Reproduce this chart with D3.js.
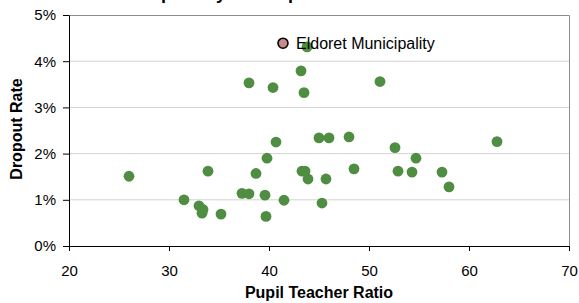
<!DOCTYPE html>
<html>
<head>
<meta charset="utf-8">
<script src="https://cdn.jsdelivr.net/npm/d3@7"></script>
<style>
  body { margin: 0; background: #fff; }
  svg { display: block; font-family: Arial, "Liberation Sans", sans-serif; }
</style>
</head>
<body>
<div id="chart"></div>
<script>
var w = 579;
var h = 303;

// Pupil teacher ratio and dropout rate per school area
var ratio = [26.0, 31.5, 33.0, 33.4, 33.3, 33.9, 35.2, 37.3, 38.0, 38.7, 39.6, 39.7, 39.8,
    40.7, 41.5, 43.3, 43.6, 43.9, 45.0, 45.3, 46.0, 48.0, 45.7, 48.5, 52.6, 52.9, 54.3,
    54.7, 57.3, 58.0, 62.8, 38.0, 40.4, 43.2, 43.5, 43.8, 51.1];
var dropout = [0.0151, 0.0100, 0.0087, 0.0079, 0.0071, 0.0162, 0.0069, 0.0114, 0.0113, 0.0157, 0.0110, 0.0064, 0.0190,
    0.0225, 0.0099, 0.0162, 0.0162, 0.0145, 0.0234, 0.0093, 0.0234, 0.0236, 0.0145, 0.0167, 0.0213, 0.0162, 0.0160,
    0.0190, 0.0160, 0.0128, 0.0226, 0.0353, 0.0343, 0.0379, 0.0332, 0.0431, 0.0356];

// highlighted point
var highlightName = ["Eldoret Municipality"];
var highlightRatio = [41.4];
var highlightDropout = [0.0439];

var xTicks = [20, 30, 40, 50, 60, 70];
var yTicks = [0, 0.01, 0.02, 0.03, 0.04, 0.05];

var points = ratio.map(function(r, i) { return { x: r, y: dropout[i] }; });
var special = highlightName.map(function(n, i) {
    return { name: n, x: highlightRatio[i], y: highlightDropout[i] };
});

// plot area edges (note: "top" is reserved on window)
var plotLeft = 69, plotRight = 569, plotTop = 15, plotBottom = 246;

var xScale = d3.scaleLinear().domain([20, 70]).range([plotLeft, plotRight]);
var yScale = d3.scaleLinear().domain([0, 0.05]).range([plotBottom, plotTop]);

var svg = d3.select("#chart")
    .append("svg")
    .attr("width", w)
    .attr("height", h);

// Title (mostly cut off above the picture)
svg.append("text")
    .attr("x", 130)
    .attr("y", -1.5)
    .style("font-size", "18px")
    .style("font-weight", "bold")
    .text("Dropout by Municipal Council");

// gridlines
svg.append("g")
    .selectAll("line")
    .data(yTicks.slice(1, -1))
    .enter()
    .append("line")
    .attr("x1", plotLeft)
    .attr("x2", plotRight)
    .attr("y1", function(d) { return yScale(d); })
    .attr("y2", function(d) { return yScale(d); })
    .attr("stroke", "#d3d3d3")
    .attr("stroke-width", 1);

// top and right frame
svg.append("path")
    .attr("d", "M" + plotLeft + "," + (plotTop + 0.5) + "H" + (plotRight + 0.5) + "V" + plotBottom)
    .attr("fill", "none")
    .attr("stroke", "#8c8c8c")
    .attr("stroke-width", 1);

// x axis
var xAxis = d3.axisBottom(xScale)
    .tickValues(xTicks)
    .tickSize(5)
    .tickSizeOuter(0)
    .tickPadding(14)
    .tickFormat(d3.format("d"));
svg.append("g")
    .attr("transform", "translate(0," + plotBottom + ")")
    .call(xAxis)
    .call(function(g) {
        g.selectAll("text").style("font-size", "15px").attr("fill", "#000");
        g.selectAll("line, path").attr("stroke", "#000");
    });

// y axis
var yAxis = d3.axisLeft(yScale)
    .tickValues(yTicks)
    .tickSize(6)
    .tickSizeOuter(0)
    .tickPadding(7)
    .tickFormat(d3.format(".0%"));
svg.append("g")
    .attr("transform", "translate(" + plotLeft + ",0)")
    .call(yAxis)
    .call(function(g) {
        g.selectAll("text").style("font-size", "15px").attr("fill", "#000");
        g.selectAll("line, path").attr("stroke", "#000");
    });

// points
svg.append("g")
    .selectAll("circle")
    .data(points)
    .enter()
    .append("circle")
    .attr("cx", function(d) { return xScale(d.x); })
    .attr("cy", function(d) { return yScale(d.y); })
    .attr("r", 5.4)
    .attr("fill", "#4f8e42");

// highlighted point and its label
var hi = svg.append("g")
    .selectAll("g")
    .data(special)
    .enter()
    .append("g");

hi.append("circle")
    .attr("cx", function(d) { return xScale(d.x); })
    .attr("cy", function(d) { return yScale(d.y); })
    .attr("r", 5)
    .attr("fill", "#c78a8a")
    .attr("stroke", "#000")
    .attr("stroke-width", 1.6);

hi.append("text")
    .attr("x", function(d) { return xScale(d.x) + 13; })
    .attr("y", function(d) { return yScale(d.y) + 5.5; })
    .style("font-size", "16px")
    .text(function(d) { return d.name; });

// axis titles
svg.append("text")
    .attr("x", (plotLeft + plotRight) / 2)
    .attr("y", 298)
    .attr("text-anchor", "middle")
    .style("font-size", "16px")
    .style("font-weight", "bold")
    .text("Pupil Teacher Ratio");

svg.append("text")
    .attr("transform", "rotate(-90)")
    .attr("x", -129)
    .attr("y", 22)
    .attr("text-anchor", "middle")
    .style("font-size", "16px")
    .style("font-weight", "bold")
    .text("Dropout Rate");
</script>
</body>
</html>
